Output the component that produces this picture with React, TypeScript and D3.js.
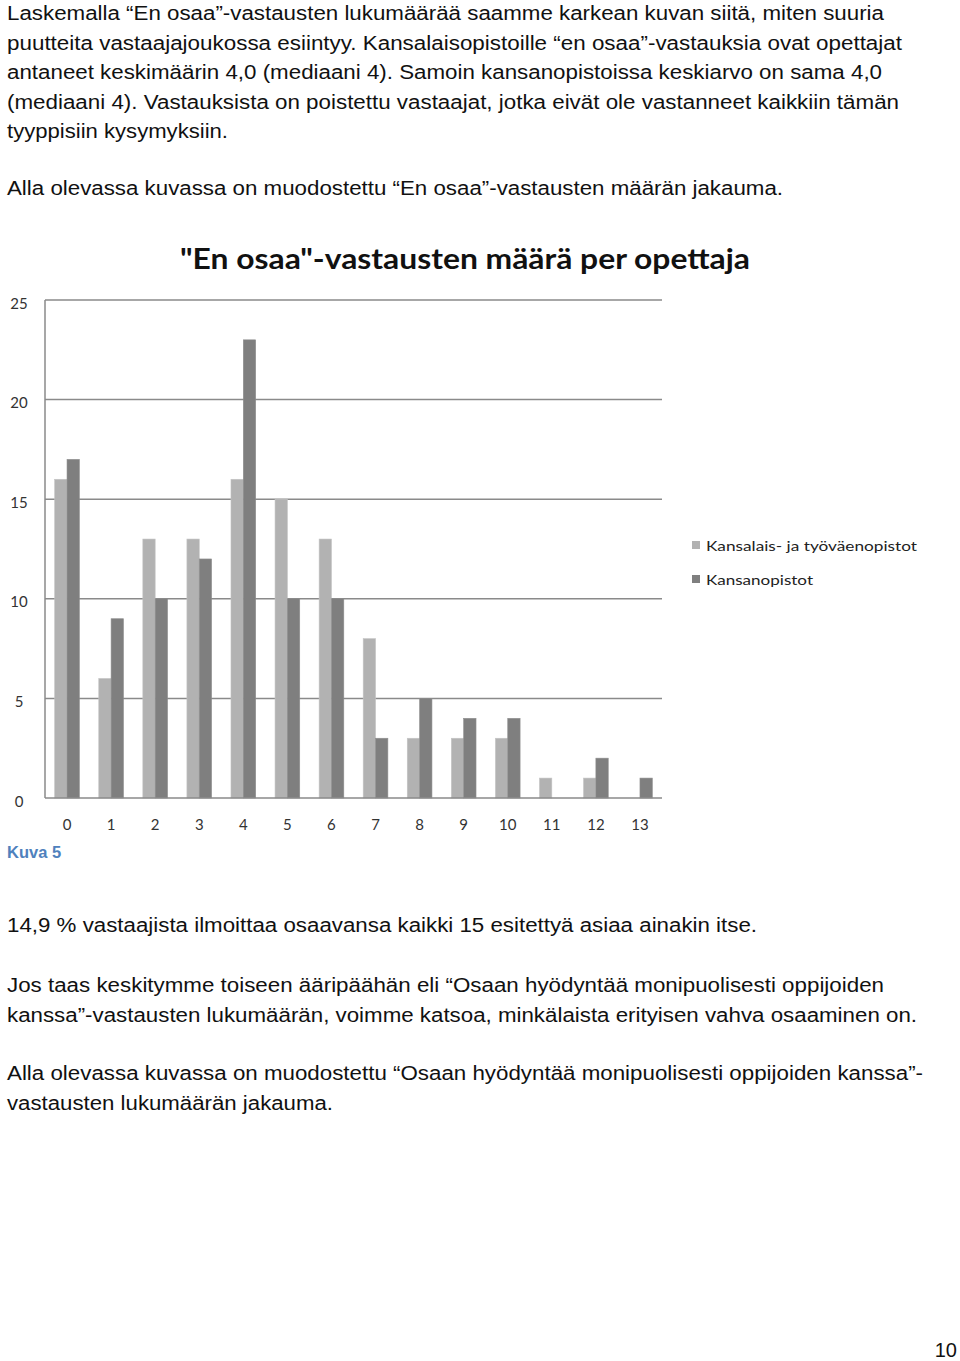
import React from "react";
import * as d3 from "d3";

const categories = ["0","1","2","3","4","5","6","7","8","9","10","11","12","13"];
const seriesNames = ["Kansalais- ja työväenopistot", "Kansanopistot"];
const kansalaisValues = [16, 6, 13, 13, 16, 15, 13, 8, 3, 3, 3, 1, 1, 0];
const kansanValues = [17, 9, 10, 12, 23, 10, 10, 3, 5, 4, 4, 0, 2, 1];
const yTicks = [0, 5, 10, 15, 20, 25];
const seriesColors = ["#b2b2b2", "#7f7f7f"];

const chartTitle = "\"En osaa\"-vastausten määrä per opettaja";

const topLines = [
  { t: "Laskemalla “En osaa”-vastausten lukumäärää saamme karkean kuvan siitä, miten suuria", y: 20, w: 877 },
  { t: "puutteita vastaajajoukossa esiintyy. Kansalaisopistoille “en osaa”-vastauksia ovat opettajat", y: 49.5, w: 895 },
  { t: "antaneet keskimäärin 4,0 (mediaani 4). Samoin kansanopistoissa keskiarvo on sama 4,0", y: 79, w: 875 },
  { t: "(mediaani 4). Vastauksista on poistettu vastaajat, jotka eivät ole vastanneet kaikkiin tämän", y: 108.5, w: 892 },
  { t: "tyyppisiin kysymyksiin.", y: 138, w: 221 },
  { t: "Alla olevassa kuvassa on muodostettu “En osaa”-vastausten määrän jakauma.", y: 195, w: 776 },
];
const bottomLines = [
  { t: "14,9 % vastaajista ilmoittaa osaavansa kaikki 15 esitettyä asiaa ainakin itse.", y: 932, w: 750 },
  { t: "Jos taas keskitymme toiseen ääripäähän eli “Osaan hyödyntää monipuolisesti oppijoiden", y: 992, w: 877 },
  { t: "kanssa”-vastausten lukumäärän, voimme katsoa, minkälaista erityisen vahva osaaminen on.", y: 1021.5, w: 910 },
  { t: "Alla olevassa kuvassa on muodostettu “Osaan hyödyntää monipuolisesti oppijoiden kanssa”-", y: 1080, w: 916 },
  { t: "vastausten lukumäärän jakauma.", y: 1109.5, w: 326 },
];

export default function App() {
  const W = 960, H = 1361;
  const left = 45, right = 662, top = 300, bottom = 798;
  const y = d3.scaleLinear().domain([0, 25]).range([bottom, top]);
  const x = d3.scaleBand<string>().domain(categories).range([left, right]).paddingInner(0.44).paddingOuter(0.22);
  const xs = d3.scaleBand<string>().domain(seriesNames).range([0, x.bandwidth()]).padding(0);
  const series = [kansalaisValues, kansanValues];
  const chartFont = "Lato, 'Open Sans', sans-serif";
  const bodyFont = "'Liberation Sans', Arial, sans-serif";

  return (
    <svg width={W} height={H} style={{ position: "absolute", left: 0, top: 0, background: "#fff" }}>
      <rect x={0} y={0} width={W} height={H} fill="#fff" />
      {topLines.map((l, i) => (
        <text key={"t" + i} x={7} y={l.y} fontFamily={bodyFont} fontSize={20} fill="#111" textLength={l.w} lengthAdjust="spacingAndGlyphs">{l.t}</text>
      ))}

      {/* chart */}
      <text x={465} y={269} textAnchor="middle" fontFamily={chartFont} fontWeight="bold" fontSize={28} fill="#111" textLength={570} lengthAdjust="spacingAndGlyphs">{chartTitle}</text>
      {yTicks.map((t) => (
        <g key={"y" + t}>
          {t > 0 && <line x1={left} x2={right} y1={y(t)} y2={y(t)} stroke="#8a8a8a" strokeWidth={1.5} />}
          <text x={19} y={y(t) + 8.5} textAnchor="middle" fontFamily={chartFont} fontSize={15} fill="#333">{t}</text>
        </g>
      ))}
      {categories.map((c, ci) => (
        <g key={"c" + c}>
          {series.map((vals, si) => (
            vals[ci] > 0 ? (
              <rect key={si} x={(x(c) as number) + (xs(seriesNames[si]) as number)} y={y(vals[ci])} width={xs.bandwidth()} height={y(0) - y(vals[ci])} fill={seriesColors[si]} stroke={si === 0 ? "#c4c4c4" : "#8e8e8e"} strokeWidth={0.6} />
            ) : null
          ))}
          <text x={(x(c) as number) + x.bandwidth() / 2} y={830} textAnchor="middle" fontFamily={chartFont} fontSize={15} fill="#333">{c}</text>
        </g>
      ))}
      <line x1={left} x2={right} y1={bottom} y2={bottom} stroke="#8a8a8a" strokeWidth={1.5} />
      <line x1={left} x2={left} y1={top} y2={bottom} stroke="#8a8a8a" strokeWidth={1.5} />

      {/* legend */}
      {seriesNames.map((n, i) => (
        <g key={"l" + i}>
          <rect x={692} y={[541, 575][i]} width={8} height={8} fill={seriesColors[i]} />
          <text x={706} y={[550.5, 584.5][i]} fontFamily={chartFont} fontSize={14} fill="#222" textLength={[211, 107][i]} lengthAdjust="spacingAndGlyphs">{n}</text>
        </g>
      ))}

      <text x={7} y={858} fontFamily={bodyFont} fontWeight="bold" fontSize={16.5} fill="#4f81bd">Kuva 5</text>

      {bottomLines.map((l, i) => (
        <text key={"b" + i} x={7} y={l.y} fontFamily={bodyFont} fontSize={20} fill="#111" textLength={l.w} lengthAdjust="spacingAndGlyphs">{l.t}</text>
      ))}

      <text x={957} y={1357} textAnchor="end" fontFamily={bodyFont} fontSize={20} fill="#111">10</text>
    </svg>
  );
}
